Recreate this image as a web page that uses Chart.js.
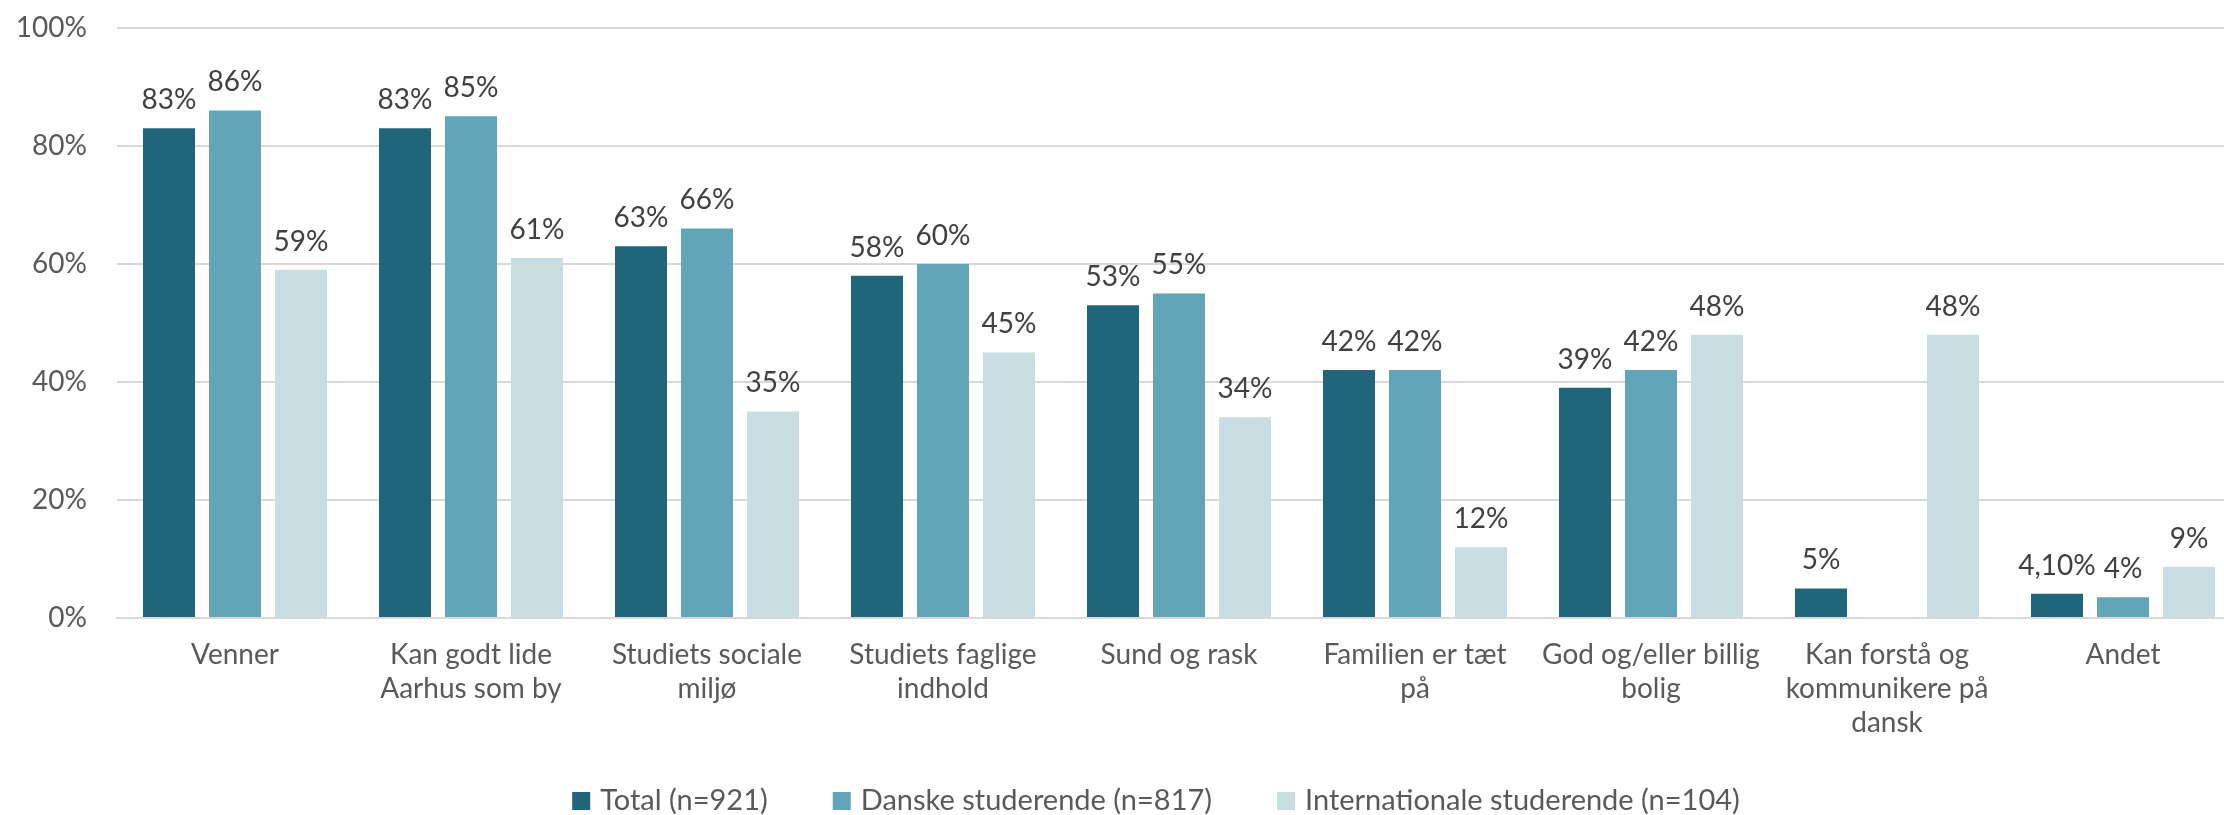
<!DOCTYPE html>
<html>
<head>
<meta charset="utf-8">
<script src="https://cdn.jsdelivr.net/npm/chart.js@4/dist/chart.umd.min.js"></script>
<style>
  html, body { margin: 0; padding: 0; background: #fff; overflow: hidden; }
  #wrap { width: 2224px; height: 815px; overflow: hidden; }
  #chart { display: block; margin-top: -19px; }
</style>
</head>
<body>
<div id="wrap"><canvas id="chart" width="2241" height="834"></canvas></div>
<script>
const categories = [
  "Venner",
  ["Kan godt lide", "Aarhus som by"],
  ["Studiets sociale", "miljø"],
  ["Studiets faglige", "indhold"],
  "Sund og rask",
  ["Familien er tæt", "på"],
  ["God og/eller billig", "bolig"],
  ["Kan forstå og", "kommunikere på", "dansk"],
  "Andet",
];
const seriesNames = ["Total (n=921)", "Danske studerende (n=817)", "Internationale studerende (n=104)"];
const totalValues = [83, 83, 63, 58, 53, 42, 39, 5, 4.1];
const danskeValues = [86, 85, 66, 60, 55, 42, 42, null, 3.5];
const internationalValues = [59, 61, 35, 45, 34, 12, 48, 48, 8.7];
const colors = ["#21657a", "#62a5b8", "#c9dee2"];

// labels shown above bars (rounded, except the odd one in the source)
const totalLabels = totalValues.map((v) => Math.round(v) + "%");
totalLabels[8] = "4,10%";
const danskeLabels = danskeValues.map((v) => (v == null ? "" : Math.round(v) + "%"));
const internationalLabels = internationalValues.map((v) => Math.round(v) + "%");
const barLabels = [totalLabels, danskeLabels, internationalLabels];

const FONT = "Lato, 'Open Sans', sans-serif";

const valueLabels = {
  id: "valueLabels",
  afterDatasetsDraw(chart) {
    const ctx = chart.ctx;
    ctx.save();
    ctx.font = "28px " + FONT;
    ctx.fillStyle = "#404040";
    ctx.textAlign = "center";
    ctx.textBaseline = "alphabetic";
    chart.data.datasets.forEach((ds, i) => {
      chart.getDatasetMeta(i).data.forEach((bar, j) => {
        const txt = barLabels[i][j];
        if (!txt) return;
        ctx.fillText(txt, bar.x, bar.y - 19);
      });
    });
    ctx.restore();
  },
};

// legend drawn by hand so it can sit a bit right of centre like the original
const bottomLegend = {
  id: "bottomLegend",
  afterDraw(chart) {
    const ctx = chart.ctx;
    const box = 18, gapText = 10, gapItem = 65;
    ctx.save();
    ctx.font = "29px " + FONT;
    ctx.textBaseline = "middle";
    const widths = chart.data.datasets.map((ds) => box + gapText + ctx.measureText(ds.label).width);
    const total = widths.reduce((a, b) => a + b, 0) + gapItem * (widths.length - 1);
    const area = chart.chartArea;
    let x = (area.left + area.right) / 2 - 23 - total / 2;
    const y = chart.height - 14;
    chart.data.datasets.forEach((ds, i) => {
      ctx.fillStyle = ds.backgroundColor;
      ctx.fillRect(x, y - box / 2, box, box);
      ctx.fillStyle = "#595959";
      ctx.fillText(ds.label, x + box + gapText, y);
      x += widths[i] + gapItem;
    });
    ctx.restore();
  },
};

new Chart(document.getElementById("chart"), {
  type: "bar",
  data: {
    labels: categories,
    datasets: [
      { label: seriesNames[0], data: totalValues, backgroundColor: colors[0] },
      { label: seriesNames[1], data: danskeValues, backgroundColor: colors[1] },
      { label: seriesNames[2], data: internationalValues, backgroundColor: colors[2] },
    ],
  },
  options: {
    responsive: false,
    animation: false,
    categoryPercentage: 0.839,
    barPercentage: 0.788,
    layout: { padding: { top: 0, right: 0, bottom: 75, left: 0 } },
    scales: {
      y: {
        min: 0,
        max: 100,
        ticks: {
          stepSize: 20,
          padding: 30,
          color: "#595959",
          font: { family: FONT, size: 28 },
          callback: (v) => v + "%",
        },
        grid: { color: "#d9d9d9", lineWidth: 2, drawTicks: false },
        border: { display: false },
        afterFit: (scale) => { scale.width = 117; },
      },
      x: {
        ticks: {
          color: "#595959",
          font: { family: FONT, size: 28, lineHeight: 1.214 },
          padding: 20,
          maxRotation: 0,
          autoSkip: false,
        },
        grid: { display: false, drawTicks: false },
        border: { color: "#d9d9d9", width: 2 },
        afterFit: (scale) => { scale.height = 122; },
      },
    },
    plugins: {
      legend: { display: false },
      tooltip: { enabled: false },
    },
  },
  plugins: [valueLabels, bottomLegend],
});
</script>
</body>
</html>
